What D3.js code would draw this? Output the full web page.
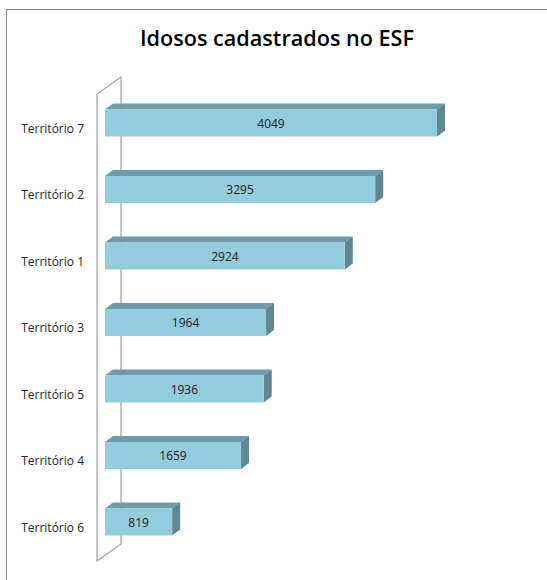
<!DOCTYPE html>
<html>
<head>
<meta charset="utf-8">
<script src="https://cdn.jsdelivr.net/npm/d3@7"></script>
<style>
  html, body { margin: 0; background: #fff; overflow: hidden; }
  svg { display: block; }
  text { font-family: "Open Sans", "Liberation Sans", sans-serif; }
</style>
</head>
<body>
<div id="viz"></div>
<script>
// chart data
const categories = ["Território 7", "Território 2", "Território 1", "Território 3", "Território 5", "Território 4", "Território 6"];
const values = [4049, 3295, 2924, 1964, 1936, 1659, 819];
const title = "Idosos cadastrados no ESF";

const width = 547;
const height = 580;
const depthX = 8;
const depthY = 6;

const data = categories.map((c, i) => ({ name: c, value: values[i] }));

const svg = d3
  .select("#viz")
  .append("svg")
  .attr("width", width)
  .attr("height", height);

// outer chart border (right and bottom edges fall outside the picture)
svg
  .append("rect")
  .attr("x", 6.5)
  .attr("y", 9.5)
  .attr("width", 560)
  .attr("height", 600)
  .attr("fill", "#fff")
  .attr("stroke", "#8c8c8c");

// title
svg
  .append("text")
  .text(title)
  .attr("x", 277)
  .attr("y", 46)
  .attr("text-anchor", "middle")
  .attr("textLength", 274)
  .attr("lengthAdjust", "spacingAndGlyphs")
  .style("font-size", "21px")
  .style("font-weight", "600")
  .style("fill", "#000");

// scales
const x = d3.scaleLinear().domain([0, 4500]).range([105, 474]);
const y = d3
  .scaleBand()
  .domain(categories)
  .range([89.75, 555.25])
  .paddingInner(0.594)
  .paddingOuter(0.297);

// back wall (3D axis plane)
const wallFront = 97;
const wallBack = 121;
const wallTop = 94;
const wallBottom = 561;
const wallShift = 17;
svg
  .append("path")
  .attr(
    "d",
    `M${wallFront},${wallBottom} L${wallFront},${wallTop} L${wallBack},${wallTop - wallShift} L${wallBack},${wallBottom - wallShift} Z`
  )
  .attr("fill", "#fff")
  .attr("stroke", "#a6a6a6")
  .attr("stroke-width", 1.3);

// bars
const bars = svg
  .selectAll("g.bar")
  .data(data)
  .enter()
  .append("g")
  .classed("bar", true);

// top face
bars
  .append("path")
  .attr("d", (d) => {
    const x0 = x(0), x1 = x(d.value), y0 = y(d.name);
    return `M${x0},${y0} L${x0 + depthX},${y0 - depthY} L${x1 + depthX},${y0 - depthY} L${x1},${y0} Z`;
  })
  .attr("fill", "#6e9ba7");

// side face
bars
  .append("path")
  .attr("d", (d) => {
    const x1 = x(d.value), y0 = y(d.name), y1 = y0 + y.bandwidth();
    return `M${x1},${y0} L${x1 + depthX},${y0 - depthY} L${x1 + depthX},${y1 - depthY} L${x1},${y1} Z`;
  })
  .attr("fill", "#5e8791");

// front face
bars
  .append("rect")
  .attr("x", x(0))
  .attr("y", (d) => y(d.name))
  .attr("width", (d) => x(d.value) - x(0))
  .attr("height", y.bandwidth())
  .attr("fill", "#93cddd");

// value labels
bars
  .append("text")
  .text((d) => d.value)
  .attr("x", (d) => (x(0) + x(d.value)) / 2)
  .attr("y", (d) => y(d.name) + y.bandwidth() / 2 + 4.5)
  .attr("text-anchor", "middle")
  .style("font-size", "12px")
  .style("fill", "#1a1a1a");

// category labels
svg
  .selectAll("text.cat")
  .data(data)
  .enter()
  .append("text")
  .classed("cat", true)
  .text((d) => d.name)
  .attr("x", 84)
  .attr("y", (d) => y(d.name) + y.bandwidth() / 2 + 9.5)
  .attr("text-anchor", "end")
  .style("font-size", "12px")
  .style("fill", "#262626");
</script>
</body>
</html>
